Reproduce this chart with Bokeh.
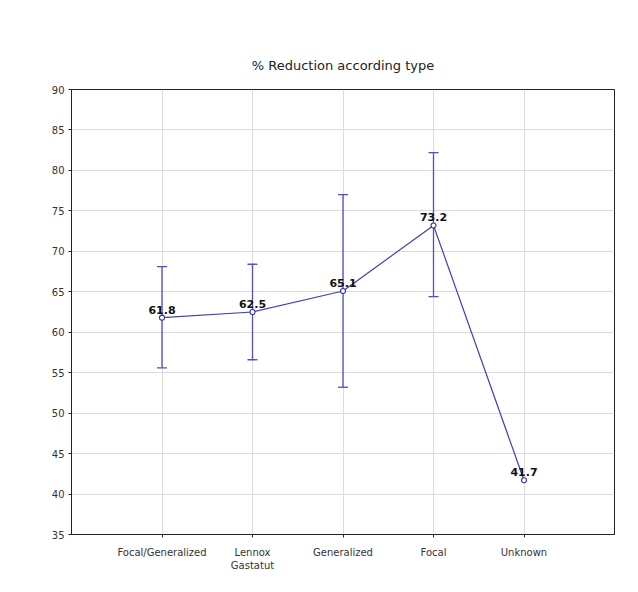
from bokeh.plotting import figure
from bokeh.models import ColumnDataSource, Whisker, TeeHead, FixedTicker, Range1d
from bokeh.embed import file_html
from bokeh.resources import INLINE
from bokeh.core.properties import value

categories = ["Focal/Generalized", "Lennox\nGastatut", "Generalized", "Focal", "Unknown"]
means = [61.8, 62.5, 65.1, 73.2, 41.7]
upper = [68.1, 68.4, 77.0, 82.2, None]
lower = [55.6, 56.6, 53.2, 64.4, None]
y_ticks = [35, 40, 45, 50, 55, 60, 65, 70, 75, 80, 85, 90]

xs = list(range(1, len(categories) + 1))

p = figure(width=630, height=584, output_backend="svg", toolbar_location=None,
           x_range=Range1d(0, len(categories) + 1), y_range=Range1d(35, 90),
           min_border_left=71, min_border_right=16, min_border_top=89, min_border_bottom=50)

p.title.text = "% Reduction according type"
p.title.align = "center"
p.title.text_font = "DejaVu Sans"
p.title.text_font_size = "13px"
p.title.text_font_style = "normal"
p.title.text_color = "#222222"
p.title.standoff = 34

p.outline_line_color = "#222222"
p.outline_line_width = 1
p.background_fill_color = "white"
p.border_fill_color = "white"

p.xaxis.ticker = FixedTicker(ticks=xs)
p.xaxis.major_label_overrides = {x: c for x, c in zip(xs, categories)}
p.yaxis.ticker = FixedTicker(ticks=y_ticks)

for ax in (p.xaxis[0], p.yaxis[0]):
    ax.axis_line_color = "#222222"
    ax.major_tick_line_color = "#222222"
    ax.major_tick_in = 0
    ax.major_tick_out = 3
    ax.minor_tick_line_color = None
    ax.major_label_text_font = "DejaVu Sans"
    ax.major_label_text_font_size = "10px"
    ax.major_label_text_color = "#333333"
p.xaxis.major_label_standoff = 9
p.yaxis.major_label_standoff = 4

p.grid.grid_line_color = "#dcdcdc"
p.grid.grid_line_width = 1

ex = [x for x, u in zip(xs, upper) if u is not None]
eu = [u for u in upper if u is not None]
el = [l for l in lower if l is not None]
esrc = ColumnDataSource(dict(x=ex, upper=eu, lower=el))
w = Whisker(source=esrc, base="x", upper="upper", lower="lower",
            line_color="#5050c0", line_width=1.3,
            upper_head=TeeHead(size=10, line_color="#5050c0", line_width=1.3),
            lower_head=TeeHead(size=10, line_color="#5050c0", line_width=1.3))
p.add_layout(w)

src = ColumnDataSource(dict(x=xs, y=means, lab=[f"{m:.1f}" for m in means]))
p.line("x", "y", source=src, line_color="#4040b0", line_width=1.2)
p.scatter("x", "y", source=src, size=5, marker="circle", fill_color="white",
          line_color="#3030b0", line_width=1.1)
p.text("x", "y", text="lab", source=src, text_align="center", text_baseline="bottom",
       y_offset=-4, text_font=value("DejaVu Sans"), text_font_size="11px",
       text_font_style="bold", text_color="#111111")

open("out.html", "w").write(file_html(p, INLINE))
